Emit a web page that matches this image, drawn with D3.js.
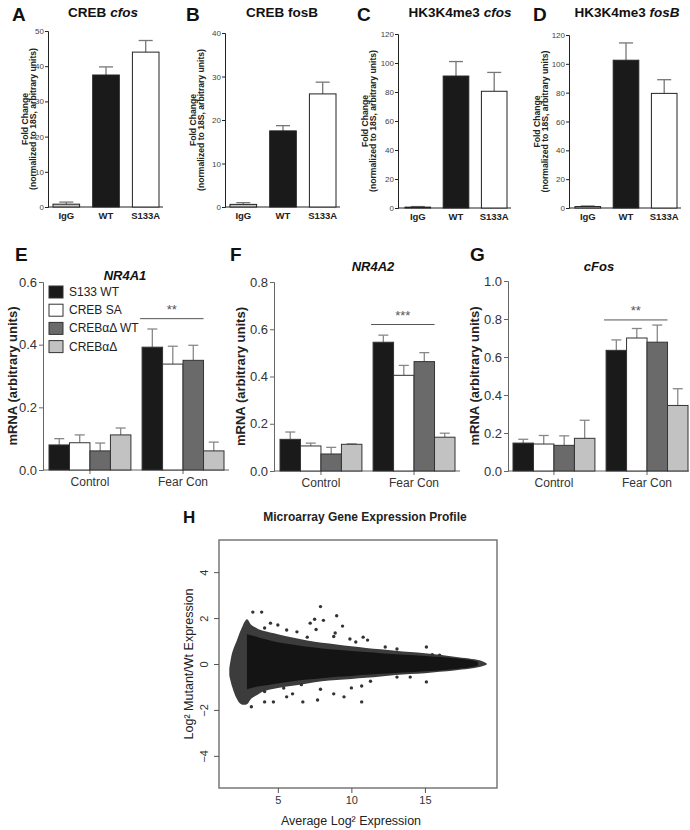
<!DOCTYPE html>
<html>
<head>
<meta charset="utf-8">
<script src="https://cdn.jsdelivr.net/npm/d3@7"></script>
<style>
  body { margin: 0; background: #fff; }
  svg { font-family: "Liberation Sans", Arial, sans-serif; }
</style>
</head>
<body>
<svg id="fig" width="690" height="830"></svg>
<script>
// ---- panel A-D data (ChIP, fold change) ----
var chipCats = ["IgG", "WT", "S133A"];
var crebCfosMean = [0.8, 37.5, 44.0];
var crebCfosErr = [0.6, 2.3, 3.3];
var crebFosbMean = [0.6, 17.5, 26.0];
var crebFosbErr = [0.4, 1.2, 2.7];
var hkCfosMean = [0.6, 91, 80.5];
var hkCfosErr = [0.4, 10, 13];
var hkFosbMean = [1.0, 102.5, 79.5];
var hkFosbErr = [0.4, 12, 9.5];

// ---- panel E-G data (mRNA) ----
var groups = ["Control", "Fear Con"];
var strains = ["S133 WT", "CREB SA", "CREB\u03b1\u0394 WT", "CREB\u03b1\u0394"];
var nr4a1Mean = [[0.08, 0.087, 0.061, 0.112], [0.392, 0.338, 0.35, 0.061]];
var nr4a1Err = [[0.02, 0.025, 0.025, 0.022], [0.058, 0.057, 0.048, 0.028]];
var nr4a2Mean = [[0.134, 0.106, 0.072, 0.113], [0.545, 0.405, 0.463, 0.143]];
var nr4a2Err = [[0.031, 0.012, 0.028, 0.002], [0.03, 0.042, 0.038, 0.017]];
var cfosMean = [[0.147, 0.142, 0.135, 0.172], [0.635, 0.7, 0.678, 0.345]];
var cfosErr = [[0.02, 0.045, 0.05, 0.095], [0.055, 0.05, 0.09, 0.088]];
var sigLevels = [0.483, 0.62, 0.795];
var sigLabels = ["**", "***", "**"];

// ---- panel H data (MA plot envelope + outliers) ----
var cloudX = [1.7, 1.9, 2.2, 2.5, 2.9, 3.2, 3.6, 4, 5, 6, 7, 8, 9, 10, 11, 12, 13, 14, 15, 16, 17, 18, 18.7, 19.2];
var cloudUpper = [-0.2, 0.5, 1.0, 1.5, 1.95, 1.7, 1.55, 1.45, 1.3, 1.15, 1.02, 0.92, 0.85, 0.77, 0.7, 0.64, 0.58, 0.52, 0.47, 0.4, 0.32, 0.24, 0.16, 0.03];
var cloudLower = [-0.5, -1.0, -1.5, -1.75, -1.75, -1.5, -1.35, -1.2, -1.05, -0.95, -0.85, -0.75, -0.7, -0.65, -0.6, -0.54, -0.48, -0.44, -0.4, -0.34, -0.28, -0.21, -0.13, -0.03];
var coreX = [2.9, 3.5, 4, 5, 6, 7, 8, 9, 10, 11, 12, 13, 14, 15, 16, 17, 18, 18.6];
var coreUpper = [1.3, 1.2, 1.1, 0.95, 0.85, 0.75, 0.68, 0.62, 0.57, 0.52, 0.47, 0.43, 0.39, 0.35, 0.3, 0.25, 0.18, 0.1];
var coreLower = [-1.1, -1.0, -0.95, -0.85, -0.75, -0.68, -0.62, -0.56, -0.52, -0.47, -0.43, -0.39, -0.36, -0.32, -0.28, -0.22, -0.15, -0.08];
var outliers = [
  [3.3, 2.26], [3.9, 2.26], [7.2, 1.78], [7.5, 1.95], [7.9, 2.5], [8.1, 1.9], [7.6, 1.5],
  [9.0, 2.1], [9.4, 1.65], [8.9, 1.35], [8.8, 1.2], [10.8, 1.17], [11.1, 1.04], [12.3, 0.74],
  [13.1, 0.65], [15.1, 0.74], [4.5, 1.78], [5.0, 1.7], [4.1, 1.57], [5.6, 1.48], [6.3, 1.4],
  [7.0, 1.17], [9.9, 1.09], [10.3, 0.96], [15.5, 0.4], [16.0, 0.38],
  [3.2, -1.86], [4.1, -1.65], [4.7, -1.65], [5.6, -1.43], [6.7, -1.65], [7.7, -1.57],
  [8.8, -1.3], [9.5, -1.43], [10.0, -1.04], [10.7, -0.96], [10.7, -1.65], [11.3, -0.75],
  [13.1, -0.57], [14.0, -0.57], [15.1, -0.78], [4.1, -1.2], [5.4, -1.05], [6.0, -1.3],
  [6.6, -0.9], [7.9, -1.1]
];

var svg = d3.select("#fig");
var chipFills = ["#c4c4c4", "#1a1a1a", "#ffffff"];
var strainFills = ["#1a1a1a", "#ffffff", "#6a6a6a", "#c2c2c2"];

/*
  NAME: drawChip
  DESCRIPTION: draws one of the small fold-change bar panels (A-D)
*/
function drawChip(cfg) {
  var g = svg.append("g");
  var x = d3.scaleBand().domain(chipCats)
    .range([cfg.x0 + cfg.pad, cfg.x0 + cfg.w - 4]).paddingInner(0.33);
  var y = d3.scaleLinear().domain([0, cfg.max]).range([cfg.y0, cfg.yTop]);

  var yAxis = g.append("g").attr("transform", "translate(" + cfg.x0 + ",0)")
    .call(d3.axisLeft(y).ticks(cfg.max / cfg.step).tickSize(3).tickPadding(1));
  yAxis.select(".domain").attr("stroke", "#222");
  yAxis.selectAll("line").attr("stroke", "#222");
  yAxis.selectAll("text").attr("font-size", 8).attr("fill", "#444");

  g.append("line").attr("x1", cfg.x0).attr("x2", cfg.x0 + cfg.w)
    .attr("y1", cfg.y0).attr("y2", cfg.y0).attr("stroke", "#222");

  chipCats.forEach(function (c, i) {
    var m = cfg.mean[i], e = cfg.err[i];
    var cx = x(c) + x.bandwidth() / 2;
    g.append("line").attr("x1", cx).attr("x2", cx)
      .attr("y1", y(m)).attr("y2", y(m + e)).attr("stroke", "#777").attr("stroke-width", 1.3);
    g.append("line").attr("x1", cx - 7).attr("x2", cx + 7)
      .attr("y1", y(m + e)).attr("y2", y(m + e)).attr("stroke", "#777").attr("stroke-width", 1.3);
    g.append("rect").attr("x", x(c)).attr("y", y(m))
      .attr("width", x.bandwidth()).attr("height", cfg.y0 - y(m))
      .attr("fill", chipFills[i]).attr("stroke", "#222").attr("stroke-width", 1);
    g.append("text").attr("x", cx).attr("y", cfg.y0 + 12)
      .attr("text-anchor", "middle").attr("font-size", 9.5).attr("font-weight", "bold")
      .attr("fill", "#222").text(c);
  });

  // y label two lines
  var mid = (cfg.y0 + cfg.yTop) / 2;
  [["Fold Change", cfg.x0 - cfg.lab1], ["(normalized to 18S, arbitrary units)", cfg.x0 - cfg.lab2]]
    .forEach(function (d) {
      g.append("text").attr("transform", "translate(" + d[1] + "," + mid + ") rotate(-90)")
        .attr("text-anchor", "middle").attr("dominant-baseline", "central")
        .attr("font-size", 8.6).attr("font-weight", "bold").attr("fill", "#222").text(d[0]);
    });

  g.append("text").attr("x", cfg.letterX).attr("y", 21)
    .attr("font-size", 19).attr("font-weight", "bold").attr("fill", "#111").text(cfg.letter);
  var t = g.append("text").attr("x", cfg.titleX).attr("y", 17)
    .attr("text-anchor", "middle").attr("font-size", 13.5).attr("font-weight", "bold").attr("fill", "#111");
  t.append("tspan").text(cfg.title[0]);
  t.append("tspan").attr("font-style", cfg.italic ? "italic" : "normal").text(cfg.title[1]);
  return;
} // end function drawChip

/*
  NAME: drawMrna
  DESCRIPTION: draws grouped bar panels (E-G)
*/
function drawMrna(cfg) {
  var g = svg.append("g");
  var x0 = d3.scaleBand().domain(groups)
    .range([cfg.x0 + cfg.pad, cfg.x0 + cfg.pad + 175]).paddingInner(0.12);
  var x1 = d3.scaleBand().domain(strains).range([0, x0.bandwidth()]).padding(0);
  var y = d3.scaleLinear().domain([0, cfg.max]).range([cfg.y0, cfg.yTop]);

  var yAxis = g.append("g").attr("transform", "translate(" + cfg.x0 + ",0)")
    .call(d3.axisLeft(y).tickValues(d3.range(0, cfg.max + 0.001, 0.2)).tickFormat(d3.format(".1f"))
      .tickSize(4).tickPadding(2));
  yAxis.select(".domain").attr("stroke", "#666");
  yAxis.selectAll("line").attr("stroke", "#666");
  yAxis.selectAll("text").attr("font-size", 13).attr("fill", "#333");

  g.append("line").attr("x1", cfg.x0).attr("x2", Math.min(cfg.x0 + 186, 689))
    .attr("y1", cfg.y0).attr("y2", cfg.y0).attr("stroke", "#666");

  groups.forEach(function (grp, gi) {
    var gc = x0(grp) + x0.bandwidth() / 2;
    g.append("line").attr("x1", gc).attr("x2", gc).attr("y1", cfg.y0).attr("y2", cfg.y0 + 4)
      .attr("stroke", "#666");
    g.append("text").attr("x", gc).attr("y", cfg.y0 + 16).attr("text-anchor", "middle")
      .attr("font-size", 12).attr("fill", "#333").text(grp);
    strains.forEach(function (s, si) {
      var m = cfg.mean[gi][si], e = cfg.err[gi][si];
      var bx = x0(grp) + x1(s);
      var cx = bx + x1.bandwidth() / 2;
      g.append("line").attr("x1", cx).attr("x2", cx).attr("y1", y(m)).attr("y2", y(m + e))
        .attr("stroke", "#888").attr("stroke-width", 1.3);
      g.append("line").attr("x1", cx - 5).attr("x2", cx + 5).attr("y1", y(m + e)).attr("y2", y(m + e))
        .attr("stroke", "#888").attr("stroke-width", 1.3);
      g.append("rect").attr("x", bx).attr("y", y(m)).attr("width", x1.bandwidth())
        .attr("height", cfg.y0 - y(m)).attr("fill", strainFills[si])
        .attr("stroke", "#333").attr("stroke-width", 1);
    });
  });

  // significance bar over first three Fear Con bars
  var fx = x0("Fear Con");
  var sx1 = fx - 2, sx2 = fx + x1(strains[2]) + x1.bandwidth();
  g.append("line").attr("x1", sx1).attr("x2", sx2).attr("y1", y(cfg.sig)).attr("y2", y(cfg.sig))
    .attr("stroke", "#555");
  g.append("text").attr("x", (sx1 + sx2) / 2).attr("y", y(cfg.sig) - 5).attr("text-anchor", "middle")
    .attr("font-size", 13).attr("fill", "#555").text(cfg.sigLabel);

  var mid = (cfg.y0 + cfg.yTop) / 2;
  g.append("text").attr("transform", "translate(" + cfg.labX + "," + mid + ") rotate(-90)")
    .attr("text-anchor", "middle").attr("dominant-baseline", "central")
    .attr("font-size", 13).attr("font-weight", "bold").attr("fill", "#222").text("mRNA (arbitrary units)");

  g.append("text").attr("x", cfg.letterX).attr("y", 261)
    .attr("font-size", 19).attr("font-weight", "bold").attr("fill", "#111").text(cfg.letter);
  g.append("text").attr("x", cfg.titleX).attr("y", cfg.titleY).attr("text-anchor", "middle")
    .attr("font-size", 13).attr("font-weight", "bold").attr("font-style", "italic")
    .attr("fill", "#111").text(cfg.title);

  if (cfg.legend) {
    strains.forEach(function (s, si) {
      var ly = 292 + si * 18.2;
      g.append("rect").attr("x", cfg.x0 + 6).attr("y", ly - 6).attr("width", 14).attr("height", 12)
        .attr("fill", strainFills[si]).attr("stroke", "#333");
      g.append("text").attr("x", cfg.x0 + 26).attr("y", ly).attr("dominant-baseline", "central")
        .attr("font-size", 12).attr("fill", "#222").text(s);
    });
  }
  return;
} // end function drawMrna

/*
  NAME: drawMA
  DESCRIPTION: microarray MA plot (panel H)
*/
function drawMA() {
  var g = svg.append("g");
  var L = 219, R = 497, T = 540, B = 788;
  var x = d3.scaleLinear().domain([1, 19.9]).range([L, R]);
  var y = d3.scaleLinear().domain([-5.4, 5.4]).range([B, T]);

  var outer = cloudX.map(function (d, i) { return [d, cloudUpper[i], cloudLower[i]]; });
  var core = coreX.map(function (d, i) { return [d, coreUpper[i], coreLower[i]]; });
  var area = d3.area().curve(d3.curveCatmullRom)
    .x(function (d) { return x(d[0]); })
    .y0(function (d) { return y(d[2]); })
    .y1(function (d) { return y(d[1]); });

  g.append("path").datum(outer).attr("d", area).attr("fill", "#3c3c3c");
  g.append("path").datum(core).attr("d", area).attr("fill", "#141414");
  g.selectAll("circle.out").data(outliers).enter().append("circle")
    .attr("cx", function (d) { return x(d[0]); })
    .attr("cy", function (d) { return y(d[1]); })
    .attr("r", 1.7).attr("fill", "#333");

  g.append("rect").attr("x", L).attr("y", T).attr("width", R - L).attr("height", B - T)
    .attr("fill", "none").attr("stroke", "#777").attr("stroke-width", 1.5);

  var xa = g.append("g").attr("transform", "translate(0," + B + ")")
    .call(d3.axisBottom(x).tickValues([5, 10, 15]).tickSize(5).tickPadding(3));
  xa.select(".domain").remove();
  xa.selectAll("line").attr("stroke", "#555");
  xa.selectAll("text").attr("font-size", 11).attr("fill", "#333");

  var ya = g.append("g").attr("transform", "translate(" + L + ",0)")
    .call(d3.axisLeft(y).tickValues([-4, -2, 0, 2, 4]).tickSize(5));
  ya.select(".domain").remove();
  ya.selectAll("line").attr("stroke", "#555");
  ya.selectAll("text").attr("font-size", 11).attr("fill", "#333")
    .attr("x", null).attr("dy", null)
    .attr("text-anchor", "middle")
    .attr("transform", "translate(-11,0) rotate(-90)");

  g.append("text").attr("x", 351).attr("y", 825).attr("text-anchor", "middle")
    .attr("font-size", 12.5).attr("fill", "#222").text("Average Log\u00b2 Expression");
  g.append("text").attr("transform", "translate(189," + y(0) + ") rotate(-90)")
    .attr("text-anchor", "middle").attr("dominant-baseline", "central")
    .attr("font-size", 12.5).attr("fill", "#222").text("Log\u00b2 Mutant/Wt Expression");

  g.append("text").attr("x", 183).attr("y", 523).attr("font-size", 17).attr("font-weight", "bold")
    .attr("fill", "#111").text("H");
  g.append("text").attr("x", 365).attr("y", 521).attr("text-anchor", "middle")
    .attr("font-size", 12).attr("font-weight", "bold").attr("fill", "#222")
    .text("Microarray Gene Expression Profile");
  return;
} // end function drawMA

drawChip({ letter: "A", letterX: 12, title: ["CREB ", "cfos"], italic: true, titleX: 103,
  x0: 48, w: 115, pad: 5, y0: 207, yTop: 31, max: 50, step: 10, mean: crebCfosMean, err: crebCfosErr, lab1: 23, lab2: 15 });
drawChip({ letter: "B", letterX: 186, title: ["CREB ", "fosB"], italic: false, titleX: 282,
  x0: 225, w: 115, pad: 5, y0: 207, yTop: 33, max: 40, step: 10, mean: crebFosbMean, err: crebFosbErr, lab1: 32, lab2: 24 });
drawChip({ letter: "C", letterX: 357, title: ["HK3K4me3 ", "cfos"], italic: true, titleX: 460,
  x0: 398, w: 113, pad: 7, y0: 208, yTop: 34, max: 120, step: 20, mean: hkCfosMean, err: hkCfosErr, lab1: 33, lab2: 25 });
drawChip({ letter: "D", letterX: 533, title: ["HK3K4me3 ", "fosB"], italic: true, titleX: 627,
  x0: 569, w: 112, pad: 6, y0: 208, yTop: 35, max: 120, step: 20, mean: hkFosbMean, err: hkFosbErr, lab1: 32, lab2: 24 });

drawMrna({ letter: "E", letterX: 15, title: "NR4A1", titleX: 125, titleY: 280, x0: 43, pad: 6,
  y0: 470, yTop: 282, max: 0.6, mean: nr4a1Mean, err: nr4a1Err, sig: sigLevels[0], sigLabel: sigLabels[0],
  labX: 12, legend: true });
drawMrna({ letter: "F", letterX: 230, title: "NR4A2", titleX: 373, titleY: 271, x0: 274, pad: 6,
  y0: 471, yTop: 282, max: 0.8, mean: nr4a2Mean, err: nr4a2Err, sig: sigLevels[1], sigLabel: sigLabels[1],
  labX: 240, legend: false });
drawMrna({ letter: "G", letterX: 470, title: "cFos", titleX: 599, titleY: 271, x0: 508, pad: 5,
  y0: 471, yTop: 281, max: 1.0, mean: cfosMean, err: cfosErr, sig: sigLevels[2], sigLabel: sigLabels[2],
  labX: 474, legend: false });

drawMA();
</script>
</body>
</html>
